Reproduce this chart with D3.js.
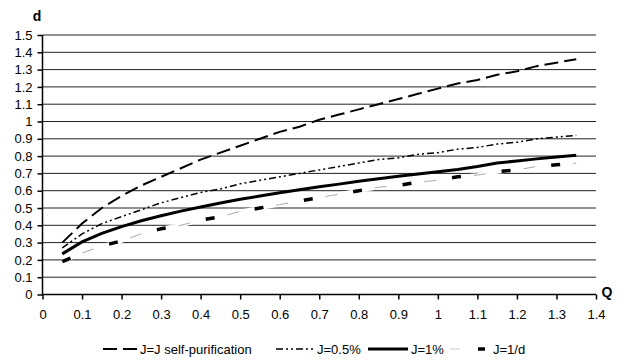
<!DOCTYPE html>
<html>
<head>
<meta charset="utf-8">
<script src="https://cdn.jsdelivr.net/npm/d3@7/dist/d3.min.js"></script>
<style>
  html, body { margin: 0; padding: 0; background: #fff; }
  svg { display: block; font-family: "Liberation Sans", Arial, sans-serif; }
</style>
</head>
<body>
<svg id="chart" width="623" height="361"></svg>
<script>
// Flow Q and depth d for each criterion
const qValues = [0.05, 0.1, 0.15, 0.2, 0.25, 0.3, 0.35, 0.4, 0.45, 0.5, 0.55, 0.6, 0.65, 0.7,
                 0.75, 0.8, 0.85, 0.9, 0.95, 1.0, 1.05, 1.1, 1.15, 1.2, 1.25, 1.3, 1.35];
const dSelfPurification = [0.30, 0.41, 0.50, 0.57, 0.63, 0.68, 0.73, 0.78, 0.82, 0.86, 0.90, 0.94, 0.97, 1.01,
                           1.04, 1.07, 1.10, 1.13, 1.16, 1.19, 1.22, 1.24, 1.27, 1.29, 1.32, 1.34, 1.36];
const dHalfPercent = [0.27, 0.35, 0.41, 0.45, 0.49, 0.53, 0.56, 0.59, 0.61, 0.64, 0.66, 0.68, 0.70, 0.72,
                      0.74, 0.76, 0.78, 0.79, 0.81, 0.82, 0.84, 0.85, 0.87, 0.88, 0.90, 0.91, 0.92];
const dOnePercent = [0.235, 0.304, 0.353, 0.392, 0.426, 0.455, 0.482, 0.506, 0.529, 0.550, 0.569, 0.588, 0.606, 0.623,
                     0.638, 0.654, 0.669, 0.683, 0.697, 0.710, 0.723, 0.740, 0.760, 0.772, 0.784, 0.795, 0.805];
const dPerDay = [0.19, 0.24, 0.28, 0.31, 0.35, 0.38, 0.40, 0.43, 0.45, 0.48, 0.50, 0.52, 0.54, 0.56,
                 0.58, 0.60, 0.62, 0.63, 0.65, 0.66, 0.68, 0.69, 0.71, 0.72, 0.74, 0.75, 0.76];
const seriesNames = ["J=J self-purification", "J=0.5%", "J=1%", "J=1/d"];
const xTicks = [0, 0.1, 0.2, 0.3, 0.4, 0.5, 0.6, 0.7, 0.8, 0.9, 1, 1.1, 1.2, 1.3, 1.4];
const yTicks = [0, 0.1, 0.2, 0.3, 0.4, 0.5, 0.6, 0.7, 0.8, 0.9, 1, 1.1, 1.2, 1.3, 1.4, 1.5];

const svg = d3.select("#chart");
const x = d3.scaleLinear().domain([0, 1.4]).range([42.5, 596]);
const y = d3.scaleLinear().domain([0, 1.5]).range([294.5, 35]);

// horizontal grid
svg.append("g").selectAll("line").data(yTicks.filter(v => v > 0)).join("line")
  .attr("x1", x(0)).attr("x2", x(1.4))
  .attr("y1", d => y(d)).attr("y2", d => y(d))
  .attr("stroke", "#222").attr("stroke-width", 1);

const line = d3.line().x(d => x(d[0])).y(d => y(d[1]));
const pts = arr => qValues.map((q, i) => [q, arr[i]]);

const styles = [
  { key: "self", data: dSelfPurification, layers: [{ stroke: "#000", width: 2, dash: "14,6" }] },
  { key: "half", data: dHalfPercent, layers: [{ stroke: "#000", width: 1.5, dash: "7,3,2,3,2,3" }] },
  { key: "one", data: dOnePercent, layers: [{ stroke: "#000", width: 3, dash: null }] },
  { key: "day", data: dPerDay, layers: [
      { stroke: "#fff", width: 4, dash: null },
      { stroke: "#aaa", width: 1, dash: "12,38", offset: -22 },
      { stroke: "#000", width: 3.5, dash: "9,41", offset: 0 }
  ] }
];

const plot = svg.append("g");
styles.slice().reverse().forEach(s => {
  s.layers.forEach(l => {
    plot.append("path").datum(pts(s.data))
      .attr("d", line)
      .attr("fill", "none")
      .attr("stroke", l.stroke)
      .attr("stroke-width", l.width)
      .attr("stroke-dasharray", l.dash)
      .attr("stroke-dashoffset", l.offset || 0);
  });
});

// axes
const xAxis = d3.axisBottom(x).tickValues(xTicks).tickSize(5).tickFormat(d => String(d));
const yAxis = d3.axisLeft(y).tickValues(yTicks).tickSize(5).tickFormat(d => String(d));

const gx = svg.append("g").attr("transform", `translate(0,${y(0)})`).call(xAxis);
const gy = svg.append("g").attr("transform", `translate(${x(0)},0)`).call(yAxis);
[gx, gy].forEach(g => {
  g.select(".domain").attr("stroke", "#000").attr("stroke-width", 1.5);
  g.selectAll(".tick line").attr("stroke", "#000").attr("stroke-width", 1.5);
  g.selectAll(".tick text").attr("fill", "#000").attr("font-size", 13)
    .attr("font-family", "'Liberation Sans', Arial, sans-serif");
});
gx.select(".domain").attr("d", `M${x(0)},0H${x(1.4)}`);
gy.select(".domain").attr("d", `M0,${y(0)}V${y(1.5)}`);
gx.selectAll(".tick text").attr("y", 15);
gy.selectAll(".tick text").attr("x", -10);

// axis titles
svg.append("text").attr("x", 37).attr("y", 21).attr("text-anchor", "middle")
  .attr("font-size", 14).attr("font-weight", "bold").text("d");
svg.append("text").attr("x", 607).attr("y", 297).attr("text-anchor", "middle")
  .attr("font-size", 14).attr("font-weight", "bold").text("Q");

// legend
const legendY = 349;
const legendItems = [
  { x0: 103, x1: 137, tx: 140, style: styles[0] },
  { x0: 276, x1: 313, tx: 317, style: styles[1] },
  { x0: 368, x1: 408, tx: 411, style: styles[2] },
  { x0: 450, x1: 485, tx: 493, style: styles[3] }
];
const lg = svg.append("g");
legendItems.forEach((it, i) => {
  if (it.style.key === "day") {
    lg.append("line").attr("x1", it.x0).attr("x2", it.x0 + 10).attr("y1", legendY).attr("y2", legendY)
      .attr("stroke", "#ccc").attr("stroke-width", 1);
    lg.append("line").attr("x1", it.x1 - 7).attr("x2", it.x1).attr("y1", legendY).attr("y2", legendY)
      .attr("stroke", "#000").attr("stroke-width", 3.5);
  } else {
    const l = it.style.layers[0];
    lg.append("line").attr("x1", it.x0).attr("x2", it.x1).attr("y1", legendY).attr("y2", legendY)
      .attr("stroke", l.stroke).attr("stroke-width", l.width).attr("stroke-dasharray", l.dash);
  }
  lg.append("text").attr("x", it.tx).attr("y", legendY + 4.5).attr("font-size", 13)
    .attr("fill", "#000").text(seriesNames[i]);
});
</script>
</body>
</html>
